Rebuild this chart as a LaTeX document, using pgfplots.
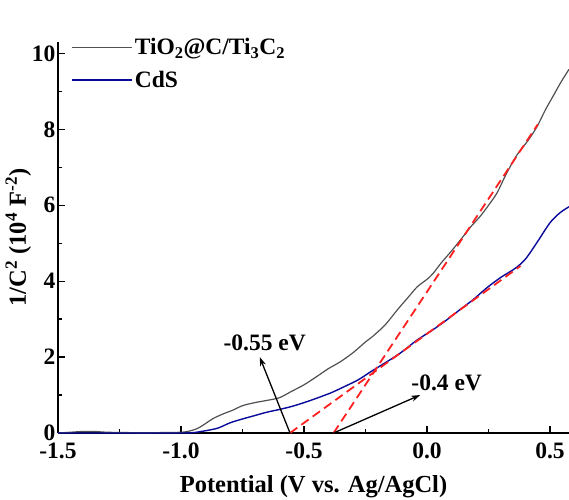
\documentclass[border=0pt]{standalone}
\usepackage{fontspec}
\setmainfont{Liberation Serif}
\usepackage{pgfplots}
\pgfplotsset{compat=1.18}
\usetikzlibrary{arrows.meta}

\definecolor{tigray}{HTML}{505050}
\definecolor{cdsblue}{HTML}{0A0A9A}
\definecolor{fitred}{HTML}{FF2020}

\newcommand{\bigbf}{\bfseries\fontsize{23.5}{23.5}\selectfont}

\begin{document}
\begin{tikzpicture}
\begin{axis}[
  scale only axis, width=511pt, height=391pt,
  xmin=-1.5, xmax=0.577, ymin=0, ymax=10.3,
  axis x line=bottom, axis y line=left,
  axis line style={-, line width=1.6pt},
  tick align=inside, tick style={black, line width=1.3pt},
  major tick length=7pt, minor tick length=4pt,
  xtick={-1.5,-1,-0.5,0,0.5}, minor x tick num=1,
  ytick={0,2,4,6,8,10}, minor y tick num=1,
  xticklabels={-1.5,-1.0,-0.5,0.0,0.5},
  /pgf/number format/assume math mode=true,
  ticklabel style={font=\bigbf},
  xticklabel style={yshift=-6pt},
  yticklabel style={xshift=1pt},
  xlabel={Potential (V vs. Ag/AgCl)},
  ylabel={1/C\textsuperscript{2} (10\textsuperscript{4} F\textsuperscript{-2})},
  label style={font=\bfseries\fontsize{24.5}{24.5}\selectfont},
  xlabel style={yshift=-10pt},
  ylabel style={yshift=-6pt},
  legend style={at={(rel axis cs:0.02,1.02)}, anchor=north west, draw=none, fill=none,
    font=\bigbf, row sep=11pt},
  legend cell align=left,
  legend image code/.code={\draw[#1] (0pt,0pt) -- (60pt,0pt);},
]
\addplot[tigray, line width=1.2pt, smooth] coordinates {
(-1.5,0) (-1.45,0.02) (-1.4,0.04) (-1.35,0.04) (-1.3,0.02) (-1.2,0.01) (-1.1,0.01)
(-1.0,0.02) (-0.96,0.06) (-0.93,0.13) (-0.9,0.25) (-0.87,0.38) (-0.83,0.5) (-0.79,0.6)
(-0.75,0.72) (-0.7,0.8) (-0.65,0.86) (-0.6,0.93) (-0.55,1.1) (-0.5,1.27) (-0.45,1.48)
(-0.4,1.7) (-0.354,1.87) (-0.3,2.12) (-0.25,2.4) (-0.22,2.55) (-0.17,2.85) (-0.12,3.25)
(-0.08,3.55) (-0.04,3.85) (0.0,4.05) (0.024,4.2) (0.06,4.5) (0.1,4.8) (0.146,5.17)
(0.18,5.45) (0.215,5.7) (0.25,6.0) (0.285,6.33) (0.32,6.8) (0.366,7.33) (0.41,7.7)
(0.447,8.07) (0.48,8.5) (0.512,8.87) (0.545,9.25) (0.577,9.58)
};
\addlegendentry{TiO\textsubscript{2}@C/Ti\textsubscript{3}C\textsubscript{2}}
\addplot[cdsblue, line width=1.4pt, smooth] coordinates {
(-1.5,0) (-1.2,0) (-1.0,0) (-0.95,0.01) (-0.9,0.06) (-0.85,0.13) (-0.8,0.27)
(-0.75,0.37) (-0.7,0.46) (-0.65,0.55) (-0.6,0.62) (-0.55,0.7) (-0.5,0.8) (-0.447,0.92)
(-0.39,1.06) (-0.34,1.21) (-0.28,1.4) (-0.23,1.61) (-0.17,1.85) (-0.11,2.1) (-0.04,2.45)
(0.024,2.72) (0.07,2.93) (0.106,3.11) (0.15,3.33) (0.187,3.51) (0.244,3.83) (0.3,4.1)
(0.35,4.3) (0.38,4.45) (0.407,4.64) (0.45,5.05) (0.5,5.54) (0.54,5.8) (0.577,5.96)
};
\addlegendentry{CdS}
\addplot[fitred, line width=1.8pt, dash pattern=on 9pt off 5pt, forget plot] coordinates {(-0.557,0) (0.38,4.4)};
\addplot[fitred, line width=1.8pt, dash pattern=on 9pt off 5pt, forget plot] coordinates {(-0.38,0) (0.45,8.13)};
\draw[-{Stealth[length=9pt,width=6pt]}, line width=1.3pt] (axis cs:-0.557,0) -- (axis cs:-0.68,2.0);
\draw[-{Stealth[length=9pt,width=6pt]}, line width=1.3pt] (axis cs:-0.38,0) -- (axis cs:-0.028,1.0);
\node[font=\bigbf] at (axis cs:-0.66,2.37) {-0.55 eV};
\node[font=\bigbf] at (axis cs:0.08,1.32) {-0.4 eV};
\coordinate (bl) at (rel axis cs:0,0);
\coordinate (tr) at (rel axis cs:1,1);
\end{axis}
\pgfresetboundingbox
\path[use as bounding box] ([xshift=-58pt,yshift=-66pt]bl) rectangle ([yshift=42pt]tr);
\end{tikzpicture}
\end{document}
